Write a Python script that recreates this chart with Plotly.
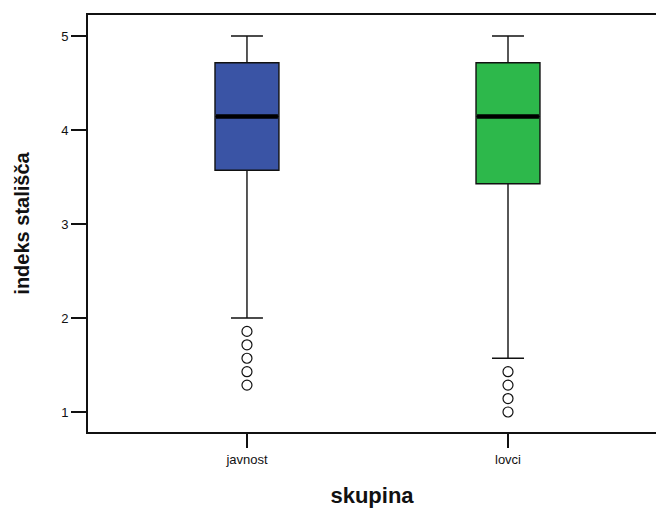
import plotly.graph_objects as go

categories = ["javnost", "lovci"]
q1 = [25/7, 24/7]
median = [29/7, 29/7]
q3 = [33/7, 33/7]
lower_whisker = [2.0, 11/7]
upper_whisker = [5.0, 5.0]
outliers = [
    [13/7, 12/7, 11/7, 10/7, 9/7],
    [10/7, 9/7, 8/7, 1.0],
]
colors = ["#3A54A5", "#2DB84B"]

BOX_W = 0.245
fig = go.Figure()
for i, cat in enumerate(categories):
    fig.add_trace(go.Box(
        x=[i], q1=[q1[i]], median=[median[i]], q3=[q3[i]],
        lowerfence=[lower_whisker[i]], upperfence=[upper_whisker[i]],
        width=BOX_W, whiskerwidth=0.5, fillcolor=colors[i],
        line=dict(color="#111111", width=1.4), boxpoints=False,
        showlegend=False, hoverinfo="skip",
    ))
    fig.add_trace(go.Scatter(
        x=[i - BOX_W / 2 + 0.004, i + BOX_W / 2 - 0.004], y=[median[i], median[i]],
        mode="lines", line=dict(color="#000000", width=4.5),
        showlegend=False, hoverinfo="skip",
    ))
    fig.add_trace(go.Scatter(
        x=[i] * len(outliers[i]), y=outliers[i], mode="markers",
        marker=dict(symbol="circle-open", size=10, color="#111111", line=dict(width=1.2)),
        showlegend=False, hoverinfo="skip",
    ))

fig.update_layout(
    width=656, height=509,
    margin=dict(l=88, r=0, t=15, b=77),
    paper_bgcolor="white", plot_bgcolor="white",
    font=dict(family="Arial, Liberation Sans, sans-serif", color="#111111"),
    xaxis=dict(
        range=[-0.609, 1.567], tickvals=[0, 1], ticktext=categories,
        showgrid=False, zeroline=False, showline=True, linecolor="#111111",
        linewidth=2, mirror=True, ticks="outside", ticklen=14, tickwidth=1.5,
        tickcolor="#111111", tickfont=dict(size=13),
        title=dict(text="<b>skupina</b>", font=dict(size=22), standoff=22),
    ),
    yaxis=dict(
        range=[0.787, 5.223], tickvals=[1, 2, 3, 4, 5],
        showgrid=False, zeroline=False, showline=True, linecolor="#111111",
        linewidth=2, ticks="outside", ticklen=15, tickwidth=1.5,
        tickcolor="#111111", tickfont=dict(size=13),
        title=dict(text="<b>indeks stališča</b>", font=dict(size=20), standoff=26),
    ),
)

fig.write_html("out.html")
